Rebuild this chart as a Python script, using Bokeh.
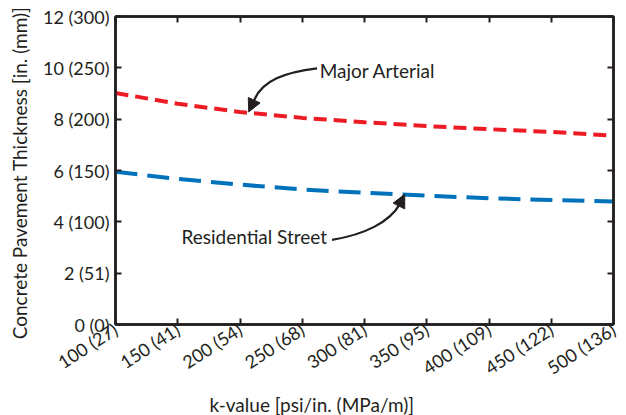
import math
from bokeh.plotting import figure
from bokeh.models import Range1d, FixedTicker, LinearAxis, Title, Arrow, NormalHead
from bokeh.embed import file_html
from bokeh.resources import INLINE
from bokeh.core.properties import value

# ---- data ----
k_values = [100, 150, 200, 250, 300, 350, 400, 450, 500]
major_arterial = [9.02, 8.6, 8.28, 8.05, 7.88, 7.73, 7.61, 7.5, 7.36]
residential_street = [5.95, 5.67, 5.45, 5.26, 5.13, 5.02, 4.92, 4.85, 4.79]

x_ticks = [100, 150, 200, 250, 300, 350, 400, 450, 500]
x_tick_labels = ["100 (27)", "150 (41)", "200 (54)", "250 (68)", "300 (81)",
                 "350 (95)", "400 (109)", "450 (122)", "500 (136)"]
y_ticks = [0, 2, 4, 6, 8, 10, 12]
y_tick_labels = ["0 (0)", "2 (51)", "4 (100)", "6 (150)", "8 (200)", "10 (250)", "12 (300)"]

# annotation anchors (data coordinates)
major_text = (264.0, 9.9)
major_curve = [(261.9, 9.98), (236.3, 9.83), (217.8, 9.51), (211.4, 8.74)]
major_tip = (207.0, 8.28)
res_text = (270.0, 3.42)
res_curve = [(273.9, 3.30), (300.4, 3.50), (320.4, 4.0), (328.5, 4.70)]
res_tip = (332.3, 5.07)

FONT = "Lato"
INK = "#231f20"

p = figure(width=620, height=415, output_backend="svg", toolbar_location=None,
           x_range=Range1d(100, 500), y_range=Range1d(0, 12),
           min_border_left=115, min_border_right=7, min_border_top=16, min_border_bottom=90)
p.xgrid.visible = False
p.ygrid.visible = False
p.outline_line_color = INK
p.outline_line_width = 2.5
p.background_fill_color = "white"
p.border_fill_color = "white"

xo = {v: l for v, l in zip(x_ticks, x_tick_labels)}
yo = {v: l for v, l in zip(y_ticks, y_tick_labels)}

def style(ax, ticks, overrides, show_labels):
    ax.ticker = FixedTicker(ticks=ticks)
    ax.major_label_overrides = overrides
    ax.major_tick_in = 6
    ax.major_tick_out = 0
    ax.minor_tick_line_color = None
    ax.axis_line_color = INK
    ax.axis_line_width = 2.5
    ax.major_tick_line_color = INK
    ax.major_tick_line_width = 2
    ax.major_label_text_font = FONT
    if show_labels:
        ax.major_label_text_color = INK
        ax.major_label_text_font_size = "18px"
    else:
        ax.major_label_text_color = None
        ax.major_label_text_font_size = "1px"
        ax.major_label_standoff = 0

style(p.xaxis[0], x_ticks, xo, True)
style(p.yaxis[0], y_ticks, yo, True)
p.xaxis[0].major_label_orientation = 33 * math.pi / 180
p.xaxis[0].major_label_standoff = 3
p.yaxis[0].major_label_standoff = 6
p.yaxis[0].axis_label = "Concrete Pavement  Thickness [in. (mm)]"
p.yaxis[0].axis_label_text_font = FONT
p.yaxis[0].axis_label_text_font_style = "normal"
p.yaxis[0].axis_label_text_font_size = "19px"
p.yaxis[0].axis_label_text_color = INK
p.yaxis[0].axis_label_standoff = 9

top = LinearAxis()
style(top, x_ticks, xo, False)
p.add_layout(top, "above")
right = LinearAxis()
style(right, y_ticks, yo, False)
p.add_layout(right, "right")

# x axis title (placed left of the frame centre, as in the reference)
p.add_layout(Title(text="k-value [psi/in. (MPa/m)]", align="left", offset=94,
                   text_font=FONT, text_font_size="19px", text_font_style="normal",
                   text_color=INK, text_line_height=1.0, standoff=0), "below")

# series
p.line(k_values, major_arterial, line_color="#ed1c24", line_width=4,
       line_dash="13 7")
p.line(k_values, residential_street, line_color="#0072bc", line_width=4,
       line_dash="22 10")

# annotations
for curve, tip in ((major_curve, major_tip), (res_curve, res_tip)):
    (x0, y0), (cx0, cy0), (cx1, cy1), (x1, y1) = curve
    p.bezier(x0=[x0], y0=[y0], cx0=[cx0], cy0=[cy0], cx1=[cx1], cy1=[cy1],
             x1=[x1], y1=[y1], line_color=INK, line_width=2.2)
    p.add_layout(Arrow(x_start=x1, y_start=y1, x_end=tip[0], y_end=tip[1],
                       line_width=0, line_alpha=0,
                       end=NormalHead(size=13, fill_color=INK, line_color=INK, line_width=1)))

p.text(x=[major_text[0]], y=[major_text[1]], text=["Major Arterial"],
       text_font=value(FONT), text_font_size="19px", text_color=INK,
       text_align="left", text_baseline="middle")
p.text(x=[res_text[0]], y=[res_text[1]], text=["Residential Street"],
       text_font=value(FONT), text_font_size="19px", text_color=INK,
       text_align="right", text_baseline="middle")

open("out.html", "w").write(file_html(p, INLINE))
